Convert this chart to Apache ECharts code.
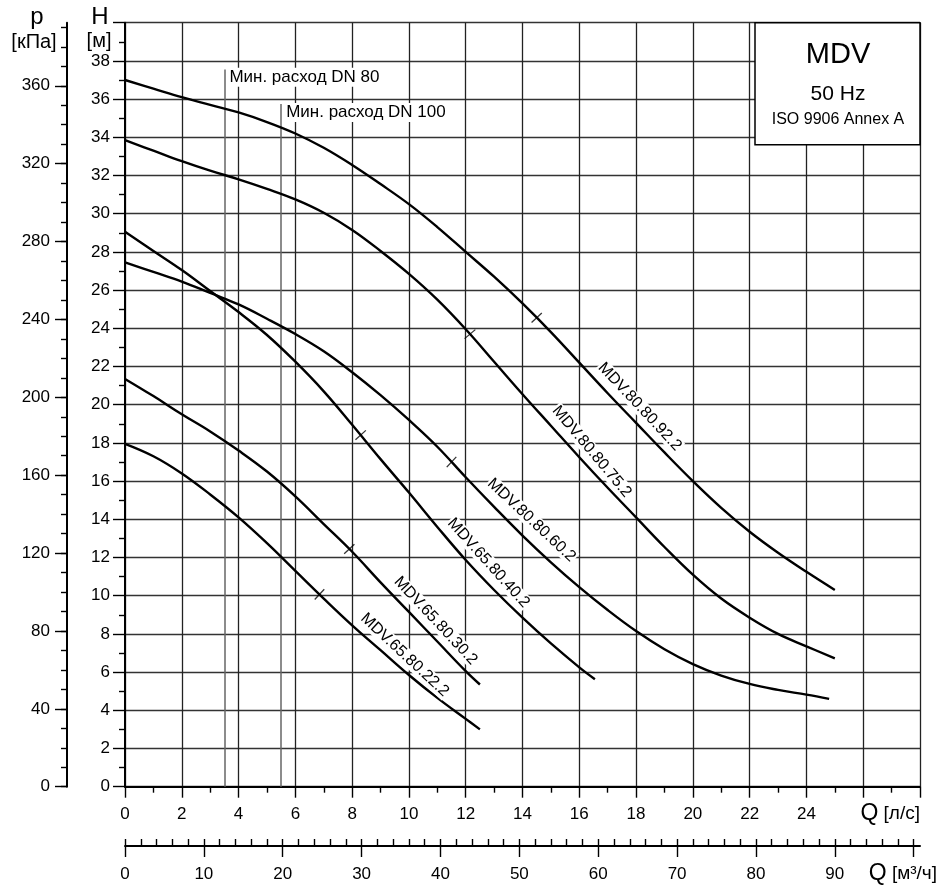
<!DOCTYPE html>
<html><head><meta charset="utf-8">
<script src="https://cdn.jsdelivr.net/npm/echarts@6/dist/echarts.min.js"></script>
<style>html,body{margin:0;padding:0;background:#fff}#c{width:940px;height:885px}</style>
</head><body><div id="c"></div>
<script>
// ---- data ----
const seriesNames = ['MDV.80.80.92.2','MDV.80.80.75.2','MDV.80.80.60.2','MDV.65.80.40.2','MDV.65.80.30.2','MDV.65.80.22.2'];
const q922 = [0,1,2,3,4,5,6,7,8,9,10,11,12,13,14,15,16,17,18,19,20,21,22,23,24,25];
const h922 = [37.0,36.55,36.1,35.7,35.3,34.8,34.2,33.45,32.55,31.55,30.5,29.3,28.0,26.7,25.3,23.8,22.2,20.6,19.05,17.5,16.0,14.6,13.35,12.25,11.25,10.3];
const q752 = [0,1,2,3,4,5,6,7,8,9,10,11,12,13,14,15,16,17,18,19,20,21,22,23,24,25];
const h752 = [33.85,33.3,32.75,32.25,31.8,31.3,30.75,30.05,29.15,28.05,26.85,25.5,23.95,22.25,20.55,18.9,17.25,15.65,14.1,12.55,11.1,9.85,8.85,8.0,7.35,6.72];
const q602 = [0,1,2,3,4,5,6,7,8,9,10,11,12,13,14,15,16,17,18,19,20,21,22,23,24,24.8];
const h602 = [27.45,26.95,26.45,25.85,25.25,24.5,23.7,22.8,21.7,20.5,19.2,17.8,16.2,14.65,13.15,11.75,10.45,9.25,8.15,7.2,6.42,5.82,5.38,5.07,4.82,4.6];
const q402 = [0,1,2,3,4,5,6,7,8,9,10,11,12,13,14,15,16,16.55];
const h402 = [29.05,28.05,27.05,25.95,24.85,23.65,22.25,20.7,18.95,17.15,15.4,13.6,11.87,10.3,8.85,7.5,6.25,5.63];
const q302 = [0,1,2,3,4,5,6,7,8,9,10,11,12,12.5];
const h302 = [21.35,20.45,19.5,18.6,17.6,16.5,15.2,13.75,12.3,10.7,9.15,7.6,6.05,5.35];
const q222 = [0,1,2,3,4,5,6,7,8,9,10,11,12,12.5];
const h222 = [17.95,17.3,16.4,15.3,14.1,12.75,11.3,9.85,8.45,7.15,5.85,4.65,3.55,3.0];
const tickQ = [14.5,12.15,11.5,8.3,7.9,6.85];           // duty-point marks on each curve
const labelQ = [18.13,16.44,14.32,12.8,10.94,9.85];      // where each curve name sits
const minFlowQ = [3.5,5.5];
const minFlowNames = ['Мин. расход DN 80','Мин. расход DN 100'];
const hTickMax = 40, qMax = 28;
const pLabels = [0,40,80,120,160,200,240,280,320,360];
const qm3Labels = [0,10,20,30,40,50,60,70,80,90];

// ---- style ----
const FONT = '"Liberation Sans", Arial, sans-serif';
const labelRot = [-47,-50,-43,-48,-47,-43];
const labelDH = [1.05,1.0,1.25,1.1,1.0,0.85];
const minFlowTop = [37.55,35.75];
const minFlowText = [37.15,35.3];

function interp(qs, hs, q){
  for (let i=0;i<qs.length-1;i++){
    if (q>=qs[i] && q<=qs[i+1]) return hs[i]+(hs[i+1]-hs[i])*(q-qs[i])/(qs[i+1]-qs[i]);
  }
  return hs[hs.length-1];
}
const curves = [[q922,h922],[q752,h752],[q602,h602],[q402,h402],[q302,h302],[q222,h222]];
const pMax = hTickMax*9.81;
const qm3Max = qMax*3.6;
const range = (a,b,s)=>{const r=[];for(let v=a;v<=b+1e-9;v+=s)r.push(Math.round(v*100)/100);return r;};

const lineSeries = curves.map((c,i)=>({
  type:'line', name:seriesNames[i], xAxisIndex:0, yAxisIndex:0,
  data:c[0].map((q,j)=>[q,c[1][j]]), symbol:'none', showSymbol:false,
  smooth:0.4, lineStyle:{color:'#000',width:2.4}, z:5, silent:true
}));

const tickSeries = {
  type:'scatter', xAxisIndex:0, yAxisIndex:0, silent:true, z:6,
  symbol:'rect', symbolSize:[1.3,14], itemStyle:{color:'#000'},
  data: curves.map((c,i)=>({value:[tickQ[i], interp(c[0],c[1],tickQ[i])], symbolRotate:labelRot[i]}))
};

const lblBase = {color:'#000', fontFamily:FONT, backgroundColor:'#fff', textBorderWidth:0, opacity:1};
const nameSeries = {
  type:'scatter', xAxisIndex:0, yAxisIndex:0, silent:true, z:7,
  symbolSize:0, itemStyle:{color:'#000'},
  data: curves.map((c,i)=>({
    value:[labelQ[i], interp(c[0],c[1],labelQ[i])+labelDH[i]],
    label:Object.assign({show:true, position:'inside', formatter:seriesNames[i], rotate:labelRot[i],
      fontSize:16, padding:[0,1]}, lblBase)
  }))
};

const minFlowSeries = {
  type:'scatter', xAxisIndex:0, yAxisIndex:0, silent:true, z:7,
  symbolSize:0, itemStyle:{color:'#000'},
  data: minFlowQ.map((q,i)=>({value:[q,minFlowText[i]],
    label:Object.assign({show:true, position:'right', distance:3, formatter:minFlowNames[i],
      fontSize:17, padding:[1,2]}, lblBase)})),
  markLine:{silent:true, symbol:['none','none'], label:{show:false},
    lineStyle:{color:'#666', width:1.5, type:'solid'},
    data: minFlowQ.map((q,i)=>[{coord:[q,minFlowTop[i]]},{coord:[q,0]}])}
};

const axisLbl = {color:'#000', fontSize:17, fontFamily:FONT};
const blackLine = {color:'#000', width:2};
const tickLine = {color:'#000', width:1.4};

const option = {
  animation:false,
  backgroundColor:'#fff',
  grid:[
    {left:125, right:20, top:22.7, bottom:98.3, outerBoundsMode:'none'},
    {left:125, right:20, top:845, height:1, outerBoundsMode:'none'}
  ],
  xAxis:[
    {type:'value', gridIndex:0, min:0, max:qMax, interval:2,
     axisLine:{show:true, onZero:false, lineStyle:blackLine},
     axisTick:{show:true, length:11, lineStyle:tickLine},
     minorTick:{show:true, splitNumber:2, length:6, lineStyle:tickLine},
     axisLabel:Object.assign({margin:19, formatter:v=> v>=26?'':String(v)}, axisLbl),
     splitLine:{show:true, lineStyle:{color:'#222', width:1.3}}},
    {type:'value', gridIndex:1, min:0, max:qm3Max, interval:10,
     axisLine:{show:true, onZero:false, lineStyle:blackLine},
     axisTick:{show:true, length:11, lineStyle:tickLine, customValues:range(0,100,10)},
     axisLabel:Object.assign({margin:20, customValues:qm3Labels}, axisLbl),
     splitLine:{show:false}},
    {type:'value', gridIndex:1, min:0, max:qm3Max, interval:2,
     axisLine:{show:false, onZero:false},
     axisTick:{show:true, length:6, lineStyle:tickLine, customValues:range(0,100,2)},
     axisLabel:{show:false}, splitLine:{show:false}}
  ],
  yAxis:[
    {type:'value', gridIndex:0, min:0, max:hTickMax, interval:2,
     axisLine:{show:true, onZero:false, lineStyle:blackLine},
     axisTick:{show:true, length:12, lineStyle:tickLine},
     minorTick:{show:true, splitNumber:2, length:6, lineStyle:tickLine},
     axisLabel:Object.assign({margin:15, formatter:v=> v>=hTickMax?'':String(v)}, axisLbl),
     splitLine:{show:true, lineStyle:{color:'#333', width:1.3}}},
    {type:'value', gridIndex:0, position:'left', offset:58, min:0, max:pMax, interval:40,
     axisLine:{show:true, onZero:false, lineStyle:blackLine},
     axisTick:{show:true, length:12, lineStyle:tickLine, customValues:pLabels},
     axisLabel:Object.assign({margin:17, customValues:pLabels}, axisLbl),
     splitLine:{show:false}},
    {type:'value', gridIndex:0, position:'left', offset:58, min:0, max:pMax, interval:10,
     axisLine:{show:false, onZero:false},
     axisTick:{show:true, length:6, lineStyle:tickLine, customValues:range(0,390,10)},
     axisLabel:{show:false}, splitLine:{show:false}},
    {type:'value', gridIndex:1, min:0, max:1, show:false}
  ],
  series: [minFlowSeries].concat(lineSeries, [tickSeries, nameSeries]),
  graphic:[
    {type:'rect', z:100, shape:{x:755, y:22.7, width:165, height:122},
     style:{fill:'#fff', stroke:'#000', lineWidth:1.5}},
    {type:'text', z:101, x:838, y:55, style:{text:'MDV', fontSize:29, fontFamily:FONT, fill:'#000', align:'center', verticalAlign:'middle'}},
    {type:'text', z:101, x:838, y:94, style:{text:'50 Hz', fontSize:21, fontFamily:FONT, fill:'#000', align:'center', verticalAlign:'middle'}},
    {type:'text', z:101, x:838, y:120, style:{text:'ISO 9906 Annex A', fontSize:16, fontFamily:FONT, fill:'#000', align:'center', verticalAlign:'middle'}},
    {type:'text', z:101, x:37, y:29, style:{text:'p', fontSize:24, fontFamily:FONT, fill:'#000', align:'center', verticalAlign:'bottom'}},
    {type:'text', z:101, x:34, y:42, style:{text:'[кПа]', fontSize:20, fontFamily:FONT, fill:'#000', align:'center', verticalAlign:'middle'}},
    {type:'text', z:101, x:100, y:29, style:{text:'H', fontSize:24, fontFamily:FONT, fill:'#000', align:'center', verticalAlign:'bottom'}},
    {type:'text', z:101, x:99, y:41, style:{text:'[м]', fontSize:20, fontFamily:FONT, fill:'#000', align:'center', verticalAlign:'middle'}},
    {type:'text', z:101, x:920, y:814, style:{text:'{q|Q} [л/с]', fontSize:19, fontFamily:FONT, fill:'#000', align:'right', verticalAlign:'middle',
      rich:{q:{fontSize:23, fontFamily:FONT, fill:'#000'}}}},
    {type:'text', z:101, x:937, y:874, style:{text:'{q|Q} [м³/ч]', fontSize:19, fontFamily:FONT, fill:'#000', align:'right', verticalAlign:'middle',
      rich:{q:{fontSize:23, fontFamily:FONT, fill:'#000'}}}}
  ]
};
const chart = echarts.init(document.getElementById('c'));
chart.setOption(option);
</script>
</body></html>
